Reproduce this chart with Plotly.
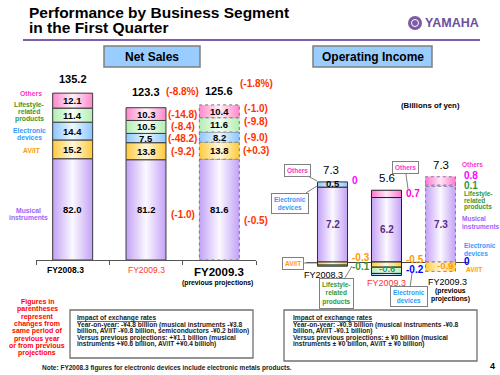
import plotly.graph_objects as go

# ---------------- data ----------------
period_labels = ["FY2008.3", "FY2009.3", "FY2009.3"]
period_sub = ["", "", "(previous projections)"]
segments = ["Musical instruments", "AV/IT", "Electronic devices",
            "Lifestyle-related products", "Others"]

sales_musical = [82.0, 81.2, 81.6]
sales_avit = [15.2, 13.8, 13.8]
sales_electronic = [14.4, 7.5, 8.2]
sales_lifestyle = [11.4, 10.5, 11.6]
sales_others = [12.1, 10.3, 10.4]
sales_total = [135.2, 123.3, 125.6]

sales_chg_total = ["", "(-8.8%)", "(-1.8%)"]
sales_chg_musical = ["", "(-1.0)", "(-0.5)"]
sales_chg_avit = ["", "(-9.2)", "(+0.3)"]
sales_chg_electronic = ["", "(-48.2)", "(-9.0)"]
sales_chg_lifestyle = ["", "(-8.4)", "(-9.8)"]
sales_chg_others = ["", "(-14.8)", "(-1.0)"]

oi_musical = [7.2, 6.2, 7.3]
oi_avit = [-0.3, -0.5, -0.9]
oi_lifestyle = [-0.1, -0.6, 0.1]
oi_electronic = [0.5, -0.2, 0.0]
oi_others = [0.0, 0.7, 0.8]
oi_total = [7.3, 5.6, 7.3]

# ---------------- styling ----------------
FONT = "Liberation Sans, Arial, Helvetica, sans-serif"
W, H = 500, 375
def px(x): return x / W
def py(y): return 1 - y / H

C_MUS, L_MUS = "#c3a2f6", "#fbf8ff"
C_AV, L_AV = "#ffc93a", "#fff8df"
C_EL, L_EL = "#8cc6ff", "#eef7ff"
C_LS, L_LS = "#b2edb2", "#f6fff6"
C_OT, L_OT = "#ff88cc", "#fff0f8"

T_MUS, T_AV, T_EL, T_LS, T_OT = "#9966ff", "#ff9900", "#3399ff", "#339933", "#ff33cc"
RED = "#ff3300"

fig = go.Figure()
annotations, shapes = [], []

def txt(text, x, y, size=9, color="#000", bold=True, xref="paper", yref="paper",
        xanchor="center", yanchor="middle", **kw):
    annotations.append(dict(text=f"<b>{text}</b>" if bold else text, x=x, y=y,
                            xref=xref, yref=yref, xanchor=xanchor, yanchor=yanchor,
                            showarrow=False, font=dict(family=FONT, size=size, color=color), **kw))

def ptxt(text, x, y, **kw):
    txt(text, px(x), py(y), **kw)

def plines(lines, x, y0, dy, **kw):
    for k, s in enumerate(lines):
        ptxt(s, x, y0 + k * dy, **kw)

def callout(text, hx, hy, bx, by, color, size=6.5):
    annotations.append(dict(text=f"<b>{text}</b>", x=px(hx), y=py(hy), xref="paper", yref="paper",
                            ax=bx - hx, ay=by - hy, showarrow=True, arrowhead=0, arrowwidth=1,
                            arrowcolor="#808080", bordercolor="#808080", borderwidth=1,
                            borderpad=2, bgcolor="white",
                            font=dict(family=FONT, size=size, color=color)))

def stack(series_list):
    n = len(series_list[0])
    pos, neg, out = [0.0] * n, [0.0] * n, []
    for s in series_list:
        seg = []
        for i, v in enumerate(s):
            if v >= 0:
                seg.append((pos[i], pos[i] + v)); pos[i] += v
            else:
                seg.append((neg[i] + v, neg[i])); neg[i] += v
        out.append(seg)
    return out, pos, neg

def draw_stack(series_list, colors, lights, xa, ya, width, line_colors, line_dashes):
    xs = list(range(len(series_list[0])))
    for s, c in zip(series_list, colors):
        fig.add_trace(go.Bar(x=xs, y=s, width=width, marker=dict(color=c, line=dict(width=0)),
                             xaxis=xa, yaxis=ya, hoverinfo="skip", showlegend=False))
    segs, pos, neg = stack(series_list)
    for sg, c, lc in zip(segs, colors, lights):
        for i, (y0, y1) in enumerate(sg):
            if y1 - y0 <= 0:
                continue
            x0, x1 = i - width / 2, i + width / 2
            fig.add_trace(go.Scatter(
                x=[x0, x1, x1, x0, x0], y=[y0, y0, y1, y1, y0], mode="lines", fill="toself",
                fillgradient=dict(type="horizontal", start=x0, stop=x1,
                                  colorscale=[[0, c], [0.5, lc], [1, c]]),
                line=dict(color=line_colors[i], width=1, dash=line_dashes[i]),
                xaxis=xa, yaxis=ya, hoverinfo="skip", showlegend=False))
    return segs, pos, neg

OUTLINE = ["#3c3c3c", "#3c3c3c", "#7a7a7a"]
DASHES = ["solid", "solid", "dot"]

# ---------------- net sales ----------------
WS = 0.545
sales_series = [sales_musical, sales_avit, sales_electronic, sales_lifestyle, sales_others]
sales_changes = [sales_chg_musical, sales_chg_avit, sales_chg_electronic, sales_chg_lifestyle, sales_chg_others]
s_segs, s_pos, _ = draw_stack(sales_series, [C_MUS, C_AV, C_EL, C_LS, C_OT],
                              [L_MUS, L_AV, L_EL, L_LS, L_OT], "x", "y", WS, OUTLINE, DASHES)
chg_shift = {0: [0, -5, -11], 4: [0, 0, 3], 3: [0, 0, 3]}
for k, (s, sg, ch) in enumerate(zip(sales_series, s_segs, sales_changes)):
    for i, v in enumerate(s):
        mid = (sg[i][0] + sg[i][1]) / 2
        txt(f"{v:.1f}", i, mid, size=9.5, xref="x", yref="y")
        if ch[i]:
            txt(ch[i], i + 0.5, mid, size=10, color=RED, xref="x", yref="y",
                yshift=chg_shift.get(k, [0, 0, 0])[i])
tot_shift = [14, 16, 14]
pct_shift = [0, 16, 21]
for i, t in enumerate(sales_total):
    txt(f"{t:.1f}", i, s_pos[i], size=11, xref="x", yref="y", yshift=tot_shift[i])
    if sales_chg_total[i]:
        txt(sales_chg_total[i], i + 0.5, s_pos[i], size=10, color=RED, xref="x", yref="y",
            yshift=pct_shift[i])

# left legend labels
ptxt("Others", 31, 93, size=6.8, color=T_OT)
plines(["Lifestyle-", "related", "products"], 29, 105, 7, size=6.8, color=T_LS)
plines(["Electronic", "devices"], 29, 130, 7.5, size=6.8, color=T_EL)
ptxt("AV/IT", 32, 150, size=6.8, color=T_AV)
plines(["Musical", "instruments"], 28, 210, 7.5, size=6.8, color=T_MUS)

# category labels
txt(period_labels[0], 0, 0, size=8.5, xref="x", yref="y", yshift=-10, xshift=-7)
txt(period_labels[1], 1, 0, size=8.5, color="#ff3333", bold=False, xref="x", yref="y", yshift=-10)
txt(period_labels[2], 2, 0, size=11.5, xref="x", yref="y", yshift=-12)
txt(period_sub[2], 2, 0, size=6.8, xref="x", yref="y", yshift=-23, xshift=-2)

# ---------------- operating income ----------------
WO = 0.556
oi_series = [oi_musical, oi_avit, oi_lifestyle, oi_electronic, oi_others]
o_segs, o_pos, o_neg = draw_stack(oi_series, [C_MUS, C_AV, C_LS, C_EL, "#ff77d0"],
                                  [L_MUS, L_AV, L_LS, L_EL, "#ffe8f6"], "x2", "y2", WO,
                                  ["#333333", "#222222", "#8a7aa8"], DASHES)
# label placement: (mode, yshift, colour)
oi_place = [
    [("in", 0, "#5a2a88"), ("in", 0, "#5a2a88"), ("in", 0, "#5a2a88")],
    [("out", 6, "#ff9900"), ("out", 5, "#ff9900"), ("in", 1, "#ff9900")],
    [("out", -1, "#339933"), ("in", 2, "#339966"), ("out", 0, "#339933")],
    [("in", 1, "#000000"), ("out", 5, "#0000ff"), ("zero", 1, "#0000ff")],
    [("out", 1, "#ff00ff"), ("out", 0, "#ff00dd"), ("out", 5, "#ff00ff")],
]
out_xshift = [2, 2, 6]
for s, sg, pl in zip(oi_series, o_segs, oi_place):
    for i, v in enumerate(s):
        mode, ys, col = pl[i]
        lab = "0" if v == 0 else f"{v:.1f}"
        mid = (sg[i][0] + sg[i][1]) / 2
        if mode == "in":
            txt(lab, i, mid, size=10 if abs(v) > 1 else 9.5, color=col, xref="x2", yref="y2",
                yshift=ys, xshift=4 if i == 2 and v < 0 else 0)
        elif mode == "out":
            txt(lab, i + WO / 2, mid, size=10, color=col, xref="x2", yref="y2",
                xanchor="left", yshift=ys, xshift=out_xshift[i])
        else:
            txt(lab, i + WO / 2, 0, size=10, color=col, xref="x2", yref="y2",
                xanchor="left", yshift=ys, xshift=out_xshift[i])
for i, t in enumerate(oi_total):
    txt(f"{t:.1f}", i, o_pos[i], size=11.5, bold=False, xref="x2", yref="y2", yshift=12,
        xshift=-2 if i == 0 else 0)

txt(period_labels[0], 0, o_neg[0], size=9, bold=False, xref="x2", yref="y2", yshift=-9, xshift=-9)
txt(period_labels[1], 1, o_neg[1], size=9, bold=False, color="#ff3333", xref="x2", yref="y2", yshift=-7)
txt(period_labels[2], 2, o_neg[2], size=9, bold=False, xref="x2", yref="y2", yshift=-11, xshift=7)
plines(["(previous", "projections)"], 450, 291, 8, size=6.8)

# right legend labels (prev projections)
ptxt("Others", 460, 165, size=6.5, color=T_OT, xanchor="left")
plines(["Lifestyle-", "related", "products"], 462, 194, 6.5, size=6.5, color=T_LS, xanchor="left")
plines(["Musical", "instruments"], 460, 218, 8, size=6.5, color=T_MUS, xanchor="left")
plines(["Electronic", "devices"], 462, 245, 8, size=6.5, color=T_EL, xanchor="left")
ptxt("AV/IT", 464, 269, size=6.5, color=T_AV, xanchor="left")

ptxt("(Billions of yen)", 430, 105, size=7.8)

# callouts
callout("Others", 317, 181, 297, 170, T_OT)
callout("Electronic<br>devices", 317, 186, 290, 203, T_EL)
callout("Others", 408, 189, 405, 167, T_OT)
callout("AV/IT", 317, 263, 293, 263, T_AV)
callout("Lifestyle-<br>related<br>products", 352, 266, 336, 293, T_LS)
callout("Electronic<br>devices", 412, 273, 409, 296, T_EL)

# ---------------- header ----------------
ptxt("Performance by Business Segment", 27, 12, size=15.5, xanchor="left")
ptxt("in the First Quarter", 27, 28, size=15.5, xanchor="left")
shapes.append(dict(type="line", xref="paper", yref="paper", x0=px(23), x1=px(480),
                   y0=py(40), y1=py(40), line=dict(color="#7d5fb0", width=2)))
shapes.append(dict(type="circle", xref="paper", yref="paper", x0=px(408), x1=px(422),
                   y0=py(30), y1=py(16), fillcolor="#7b5aa6", line=dict(width=0)))
shapes.append(dict(type="circle", xref="paper", yref="paper", x0=px(411.5), x1=px(418.5),
                   y0=py(26.5), y1=py(19.5), fillcolor="rgba(0,0,0,0)",
                   line=dict(color="white", width=1)))
ptxt("YAMAHA", 452, 23.5, size=12.5, color="#6b4fa0")

for (x0, x1, label) in [(104, 200, "Net Sales"), (313, 432, "Operating Income")]:
    shapes.append(dict(type="rect", xref="paper", yref="paper", x0=px(x0), x1=px(x1),
                       y0=py(67), y1=py(46), fillcolor="#99ccff",
                       line=dict(color="#7f7f7f", width=1.5)))
    ptxt(label, (x0 + x1) / 2, 56.5, size=12)

# ---------------- footer ----------------
plines(["Figures in", "parentheses", "represent", "changes from", "same period of",
        "previous year", "or from previous", "projections"], 37, 302, 7.3, size=7, color="#ff0000")

shapes.append(dict(type="rect", xref="paper", yref="paper", x0=px(70), x1=px(253),
                   y0=py(358), y1=py(310), line=dict(color="#707070", width=1.3)))
shapes.append(dict(type="rect", xref="paper", yref="paper", x0=px(284), x1=px(477),
                   y0=py(361), y1=py(310), line=dict(color="#707070", width=1.3)))
box1 = ["<u>Impact of exchange rates</u>",
        "Year-on-year: -¥4.8 billion (musical instruments -¥3.8",
        "billion, AV/IT -¥0.8 billion, semiconductors -¥0.2 billion)",
        "Versus previous projections: +¥1.1 billion (musical",
        "instruments +¥0.6 billion, AV/IT +¥0.4 billion)"]
box2 = ["<u>Impact of exchange rates</u>",
        "Year-on-year: -¥0.9 billion (musical instruments -¥0.8",
        "billion, AV/IT -¥0.1 billion)",
        "Versus previous projections: ± ¥0 billion (musical",
        "instruments ± ¥0 billion, AV/IT ± ¥0 billion)"]
plines(box1, 75, 318, 6.6, size=6.6, color="#222", xanchor="left")
plines(box2, 291, 318, 6.6, size=6.6, color="#222", xanchor="left")

ptxt("Note: FY2008.3 figures for electronic devices include electronic metals products.",
     40, 368, size=6.5, color="#222", xanchor="left")
ptxt("4", 492, 366, size=9)

# ---------------- layout ----------------
fig.update_layout(
    width=W, height=H, margin=dict(l=0, r=0, t=0, b=0),
    paper_bgcolor="white", plot_bgcolor="rgba(0,0,0,0)",
    barmode="relative", showlegend=False, font=dict(family=FONT),
    xaxis=dict(domain=[px(36), px(256)], range=[-0.5, 2.5], tickvals=[-0.5, 0.5, 1.5, 2.5],
               showticklabels=False, ticks="outside", ticklen=4, tickcolor="#555",
               showline=True, linecolor="#555", linewidth=1, showgrid=False, zeroline=False,
               anchor="y"),
    yaxis=dict(domain=[py(260), py(75)], range=[0, (260 - 75) / 1.235], visible=False,
               anchor="x"),
    xaxis2=dict(domain=[px(305.5), px(467.5)], range=[-0.5, 2.5], visible=False, anchor="y2"),
    yaxis2=dict(domain=[py(290), py(160)], range=[-28 / 10.4, 102 / 10.4], anchor="x2",
                showticklabels=False, showgrid=False, ticks="", showline=False,
                zeroline=True, zerolinecolor="#444", zerolinewidth=1),
    annotations=annotations, shapes=shapes,
)
fig.write_html("out.html", config={"displayModeBar": False},
               post_script="document.body.style.margin='0';document.body.style.overflow='hidden';")
